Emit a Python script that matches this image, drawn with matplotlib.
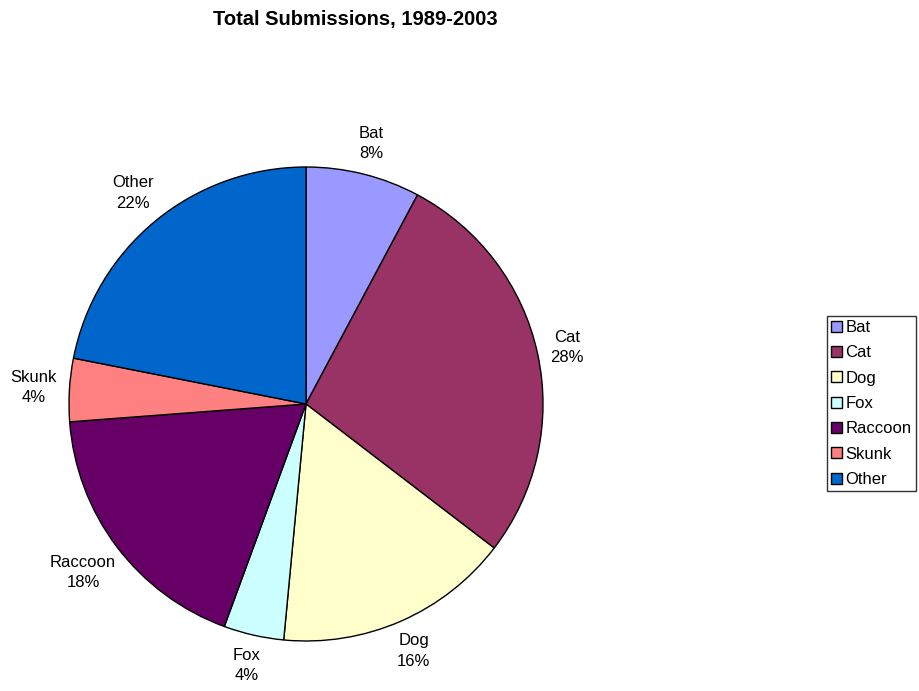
import numpy as np
import matplotlib.pyplot as plt
from matplotlib.patches import Patch

plt.rcParams['font.family'] = ['Liberation Sans', 'DejaVu Sans']

# Rabies submissions by species, share of total (%)
species = ['Bat', 'Cat', 'Dog', 'Fox', 'Raccoon', 'Skunk', 'Other']
shares = [7.8, 27.6, 16.1, 4.1, 18.2, 4.3, 21.9]
colors = ['#9999FF', '#993366', '#FFFFCC', '#CCFFFF', '#660066', '#FF8080', '#0066CC']

labels = [f'{name}\n{pct:.0f}%' for name, pct in zip(species, shares)]

CENTER = (306, 287)
RADIUS = 237
LABEL_GAP = 13  # px between rim and nearest edge of a label box

fig = plt.figure(figsize=(9.2, 6.91), dpi=100)
ax = fig.add_axes([0, 0, 1, 1])

wedges, texts = ax.pie(
    shares, colors=colors, labels=labels,
    center=CENTER, radius=RADIUS,
    startangle=90, counterclock=False,
    labeldistance=1.15,
    wedgeprops=dict(edgecolor='black', linewidth=1.0),
    textprops=dict(ha='center', va='center', fontsize=12, linespacing=1.45),
    frame=True,
)
ax.set_xlim(0, 920)
ax.set_ylim(0, 691)
ax.set_aspect('equal')
ax.axis('off')

# push each label out so its box sits a fixed gap off the rim
fig.canvas.draw()
renderer = fig.canvas.get_renderer()
for w, t in zip(wedges, texts):
    theta = np.deg2rad((w.theta1 + w.theta2) / 2)
    c, s = np.cos(theta), np.sin(theta)
    bb = t.get_window_extent(renderer)
    hw, hh = bb.width / 2, bb.height / 2
    reach = min(hw / abs(c) if abs(c) > 1e-6 else np.inf,
                hh / abs(s) if abs(s) > 1e-6 else np.inf)
    d = RADIUS + LABEL_GAP + reach
    t.set_position((CENTER[0] + d * c, CENTER[1] + d * s))

fig.text(355 / 920, 1 - 19 / 691, 'Total Submissions, 1989-2003',
         ha='center', va='center', fontsize=14.5, fontweight='bold')

handles = [Patch(facecolor=c, edgecolor='black', linewidth=1.0) for c in colors]
leg = fig.legend(handles, species, loc='center left',
                 bbox_to_anchor=(827 / 920, 1 - 403.5 / 691),
                 fontsize=12, frameon=True, fancybox=False,
                 handlelength=0.65, handleheight=0.65, handletextpad=0.2,
                 labelspacing=0.62, borderpad=0.25, borderaxespad=0)
leg.get_frame().set_edgecolor('black')
leg.get_frame().set_linewidth(1.0)

fig.savefig('out.png', dpi=100)
